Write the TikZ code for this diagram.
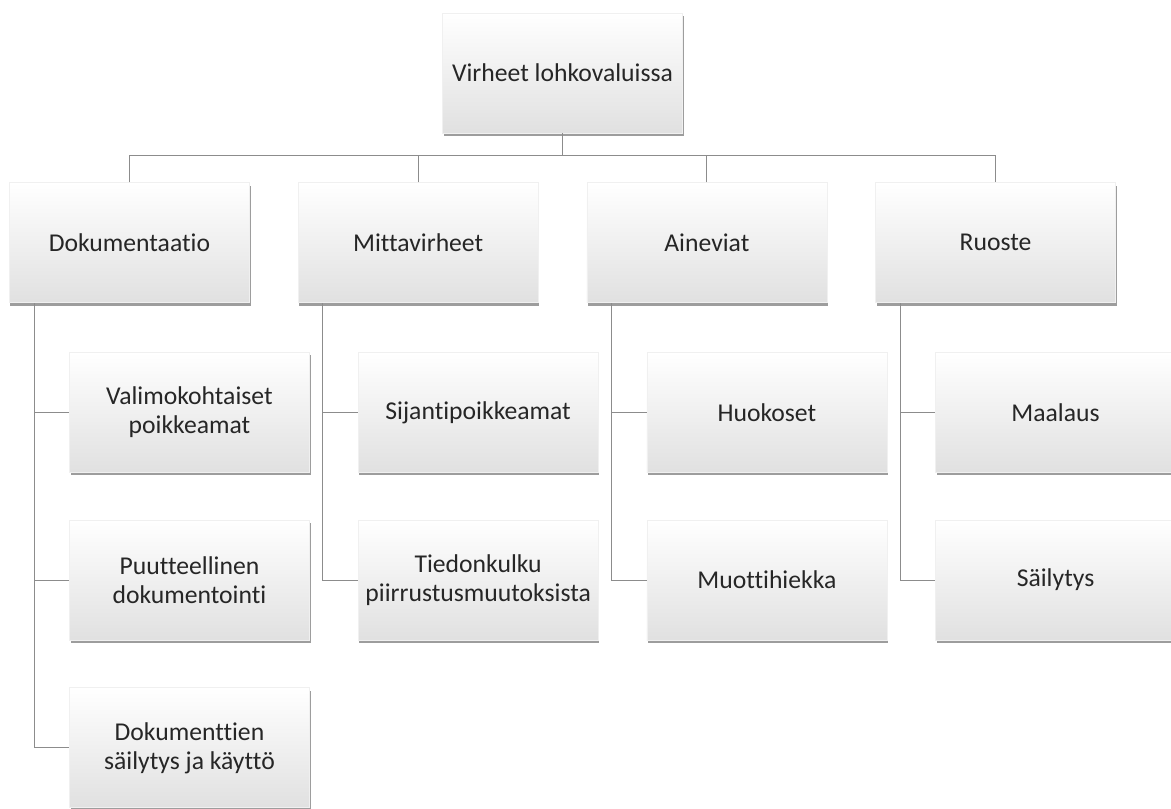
\documentclass[tikz,border=0pt]{standalone}
\usepackage{fontspec}
\setmainfont[Ligatures=NoCommon]{Carlito}
\usetikzlibrary{positioning, shadows, calc}

\begin{document}
\begin{tikzpicture}[
  node distance=0.98cm and 0.96cm,
  box/.style={draw=black!6, align=center, font=\fontsize{14.6}{16.5}\selectfont,
              text=black!85, minimum width=4.8cm, minimum height=2.4cm,
              top color=white, middle color=white, bottom color=black!12,
              drop shadow={shadow xshift=0.6pt, shadow yshift=-1.6pt,
                           fill=black!70, opacity=0.55}},
  conn/.style={draw=black!45, line width=0.6pt}
]
\useasboundingbox (0,0) rectangle (23.42,-16.16);

\node[box] (top) at (11.25,-1.46) {Virheet lohkovaluissa};

% level 1: the two middle boxes hang symmetric under the root
\node[box, below left=0.98cm and 0.48cm of top.south] (mitta) {Mittavirheet};
\node[box, below right=0.98cm and 0.48cm of top.south] (aine) {Aineviat};
\node[box, left=of mitta] (dok) {Dokumentaatio};
\node[box, right=of aine] (ruoste) {Ruoste};

% level 2, shifted 1.2cm to the right of the parent
\node[box, below=of dok.south, xshift=1.2cm] (valimo) {Valimokohtaiset\\poikkeamat};
\node[box, below=0.94cm of valimo] (puute) {Puutteellinen\\dokumentointi};
\node[box, below=0.94cm of puute] (saily) {Dokumenttien\\säilytys ja käyttö};

\node[box, below=of mitta.south, xshift=1.2cm] (sijanti) {Sijantipoikkeamat};
\node[box, below=0.94cm of sijanti] (tieto) {Tiedonkulku\\piirrustusmuutoksista};

\node[box, below=of aine.south, xshift=1.2cm] (huok) {Huokoset};
\node[box, below=0.94cm of huok] (muotti) {Muottihiekka};

\node[box, below=of ruoste.south, xshift=1.2cm] (maal) {Maalaus};
\node[box, below=0.94cm of maal] (sailytys) {Säilytys};

% root to level 1
\coordinate (bus) at ($(top.south)+(0,-0.44)$);
\draw[conn] (top.south) -- (bus);
\draw[conn] (dok.north) |- (bus) -| (ruoste.north);
\draw[conn] (mitta.north) -- (mitta.north |- bus);
\draw[conn] (aine.north) -- (aine.north |- bus);

% level 1 to level 2
\draw[conn] ($(dok.south west)+(0.5,0)$) |- (valimo.west);
\draw[conn] ($(dok.south west)+(0.5,0)$) |- (puute.west);
\draw[conn] ($(dok.south west)+(0.5,0)$) |- (saily.west);
\draw[conn] ($(mitta.south west)+(0.5,0)$) |- (sijanti.west);
\draw[conn] ($(mitta.south west)+(0.5,0)$) |- (tieto.west);
\draw[conn] ($(aine.south west)+(0.5,0)$) |- (huok.west);
\draw[conn] ($(aine.south west)+(0.5,0)$) |- (muotti.west);
\draw[conn] ($(ruoste.south west)+(0.5,0)$) |- (maal.west);
\draw[conn] ($(ruoste.south west)+(0.5,0)$) |- (sailytys.west);
\end{tikzpicture}
\end{document}
